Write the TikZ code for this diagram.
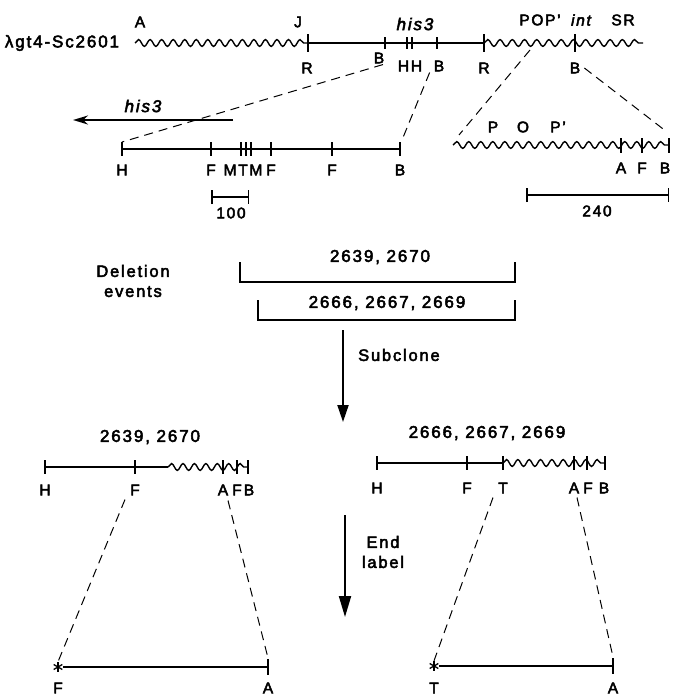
\documentclass[tikz,border=0pt]{standalone}
\usepackage{fontspec}
\setmainfont{Liberation Sans}[LetterSpace=11, FakeBold=3]
\usetikzlibrary{
  arrows.meta,
  decorations.pathmorphing,
  positioning,
  calc
}
\tikzset{
  dna/.style={line width=1.8pt},
  phage/.style={line width=1.4pt, decorate,
    decoration={snake, amplitude=3.4pt, segment length=#1}},
  phage/.default=12pt,
  site/.style={line width=1.4pt},
  lbl/.style={font=\fontsize{15.5}{17}\selectfont, inner sep=1pt},
  numlbl/.style={font=\fontsize{17}{19}\selectfont, inner sep=1pt},
  genelbl/.style={font=\fontsize{17}{19}\selectfont\itshape, inner sep=1pt},
  steplbl/.style={font=\fontsize{16.5}{20}\selectfont, inner sep=1pt, align=center},
  zoomline/.style={line width=1pt, dash pattern=on 9pt off 6pt},
  bracket/.style={line width=1.5pt},
  scalebar/.style={line width=1.5pt, {Bar[width=14pt]}-{Bar[width=14pt]}},
  stagearrow/.style={line width=2pt, -{Triangle[length=17pt, width=11pt]}},
  genearrow/.style={line width=2pt, -{Stealth[length=15pt, width=9pt]}},
  endmark/.style={circle, inner sep=0pt, minimum size=10pt},
  spoke/.style={line width=1.3pt}
}
\begin{document}
\begin{tikzpicture}[x=1pt, y=-1pt]
  \useasboundingbox (0,0) rectangle (672,696);

  % clone map
  \node[numlbl] (clone) at (62,43) {λgt4-Sc2601};
  \coordinate (tL) at (135,43);
  \coordinate (tJ) at (308,43);
  \coordinate (tR) at (484,43);
  \coordinate (tE) at (643,43);
  \coordinate (tPOP) at (530,50);
  \draw[phage=11.53pt] (tL) -- (tJ);
  \draw[dna] (tJ) -- (tR);
  \draw[phage=12.23pt] (tR) -- (tE);
  \foreach \x/\h in {308/9, 385/6, 407/6, 412/6, 437/6, 484/9, 575/9}
    \draw[site] (\x,43-\h) -- (\x,43+\h);
  \node[lbl] (tlA) at (140,22) {A};
  \node[lbl] (tlJ) at (298,22) {J};
  \node[lbl] (tlR1) at (307,68) {R};
  \node[lbl] (tlB1) at (379,58) {B};
  \node[lbl] (tlHH) at (410,66) {HH};
  \node[lbl] (tlB2) at (439,66) {B};
  \node[lbl] (tlR2) at (484,68) {R};
  \node[lbl] (tlB3) at (575,68) {B};
  \node[genelbl] (tlhis) at (415,24) {his3};
  \node[lbl] (tlPOP) at (540,20) {POP’};
  \node[lbl, font=\fontsize{15.5}{17}\selectfont\itshape] (tlint) at (581,20) {int};
  \node[lbl] (tlSR) at (623,20) {SR};

  % his3 region
  \draw[genearrow] (233,120) -- (73,120);
  \node[genelbl] (hisdir) at (143,106) {his3};
  \coordinate (eH) at (122,149);
  \coordinate (eB) at (400,149);
  \draw[dna] (eH) -- (eB);
  \foreach \x in {122,211,241,246,251,271,332,400}
    \draw[site] (\x,142) -- (\x,156);
  \foreach \x/\t in {122/H, 211/F, 271/F, 332/F, 400/B}
    \node[lbl] (el\x) at (\x,170) {\t};
  \node[lbl] (elMTM) at (243,170) {MTM};
  \draw[scalebar] (211,197) -- (249,197);
  \node[lbl] (sc100) at (231,213) {100};

  % attachment region
  \coordinate (pL) at (453,145);
  \coordinate (pB) at (669,145);
  \draw[phage=12pt] (pL) -- (pB);
  \foreach \x in {621,642,669}
    \draw[site] (\x,138) -- (\x,153);
  \foreach \x/\t/\n in {493/P/P, 523/O/O, 558/P’/Pp}
    \node[lbl] (pl\n) at (\x,127) {\t};
  \foreach \x/\t in {621/A, 642/F, 665/B}
    \node[lbl] (pl\t) at (\x,168) {\t};
  \draw[scalebar] (526,195) -- (669,195);
  \node[lbl] (sc240) at (597,211) {240};

  % expansions
  \draw[zoomline] ([xshift=4pt]tlB1.south) -- ([yshift=7pt]eH);
  \draw[zoomline] ([xshift=-3pt]tlB2.south west) -- ([xshift=2pt, yshift=9pt]eB);
  \draw[zoomline] (tPOP) -- ([xshift=6pt, yshift=10pt]pL);
  \draw[zoomline] ([xshift=3pt]tlB3.east) -- ([xshift=-2pt, yshift=13pt]pB);

  % deletion events
  \node[steplbl] (dele) at (133,281) {Deletion\\events};
  \draw[bracket] (240,262) -- (240,282) -- (515,282) -- (515,262);
  \node[numlbl] (delA) at (380,257) {2639, 2670};
  \draw[bracket] (258,300) -- (258,320) -- (515,320) -- (515,300);
  \node[numlbl] (delB) at (387,303) {2666, 2667, 2669};

  \draw[stagearrow] (343,330) -- (343,422);
  \node[steplbl, anchor=west] (subc) at (357,355) {Subclone};

  % subclone left
  \node[numlbl] (subA) at (150,437) {2639, 2670};
  \coordinate (aH) at (45,467);
  \coordinate (aW) at (168,467);
  \coordinate (aB) at (248,467);
  \draw[dna] (aH) -- (aW);
  \draw[phage=11.43pt] (aW) -- (aB);
  \foreach \x in {45,135,223,237,248}
    \draw[site] (\x,460) -- (\x,474);
  \foreach \x/\t/\n in {45/H/H, 135/F/F, 223/A/A, 237/F/Fb, 249/B/B}
    \node[lbl] (al\n) at (\x,490) {\t};

  % subclone right
  \node[numlbl] (subB) at (487,433) {2666, 2667, 2669};
  \coordinate (bH) at (377,463);
  \coordinate (bT) at (503,463);
  \coordinate (bB) at (605,463);
  \draw[dna] (bH) -- (bT);
  \draw[phage=11.33pt] (bT) -- (bB);
  \foreach \x in {377,467,503,574,587,605}
    \draw[site] (\x,456) -- (\x,470);
  \foreach \x/\t/\n in {377/H/H, 467/F/F, 503/T/T, 574/A/A, 588/F/Fb, 604/B/B}
    \node[lbl] (bl\n) at (\x,488) {\t};

  \draw[stagearrow, -{Triangle[length=21pt, width=12pt]}] (345,515) -- (345,617);
  \node[steplbl] (endl) at (383,552) {End\\label};

  % end-labelled fragments
  \node[endmark] (starA) at (58,667) {};
  \foreach \a in {90,30,150}
    \draw[spoke] ($(starA)+(\a:5pt)$) -- ($(starA)+(\a+180:5pt)$);
  \coordinate (aA) at (268,667);
  \draw[dna] (starA.east) -- (aA);
  \draw[site] (268,659) -- (268,675);
  \node[lbl] (fAF) at (58,688) {F};
  \node[lbl] (fAA) at (268,688) {A};
  \draw[zoomline] ([xshift=-10pt, yshift=-3pt]alF.south) -- (starA.north);
  \draw[zoomline] ([xshift=5pt, yshift=-4pt]alA.south) -- ([yshift=9pt]aA);

  \node[endmark] (starB) at (434,666) {};
  \foreach \a in {90,30,150}
    \draw[spoke] ($(starB)+(\a:5pt)$) -- ($(starB)+(\a+180:5pt)$);
  \coordinate (bA) at (613,666);
  \draw[dna] (starB.east) -- (bA);
  \draw[site] (613,658) -- (613,674);
  \node[lbl] (fBT) at (434,688) {T};
  \node[lbl] (fBA) at (613,688) {A};
  \draw[zoomline] ([xshift=-10pt, yshift=-3pt]blT.south) -- (starB.north);
  \draw[zoomline] ([xshift=3pt, yshift=-3pt]blA.south) -- ([yshift=9pt]bA);
\end{tikzpicture}
\end{document}
